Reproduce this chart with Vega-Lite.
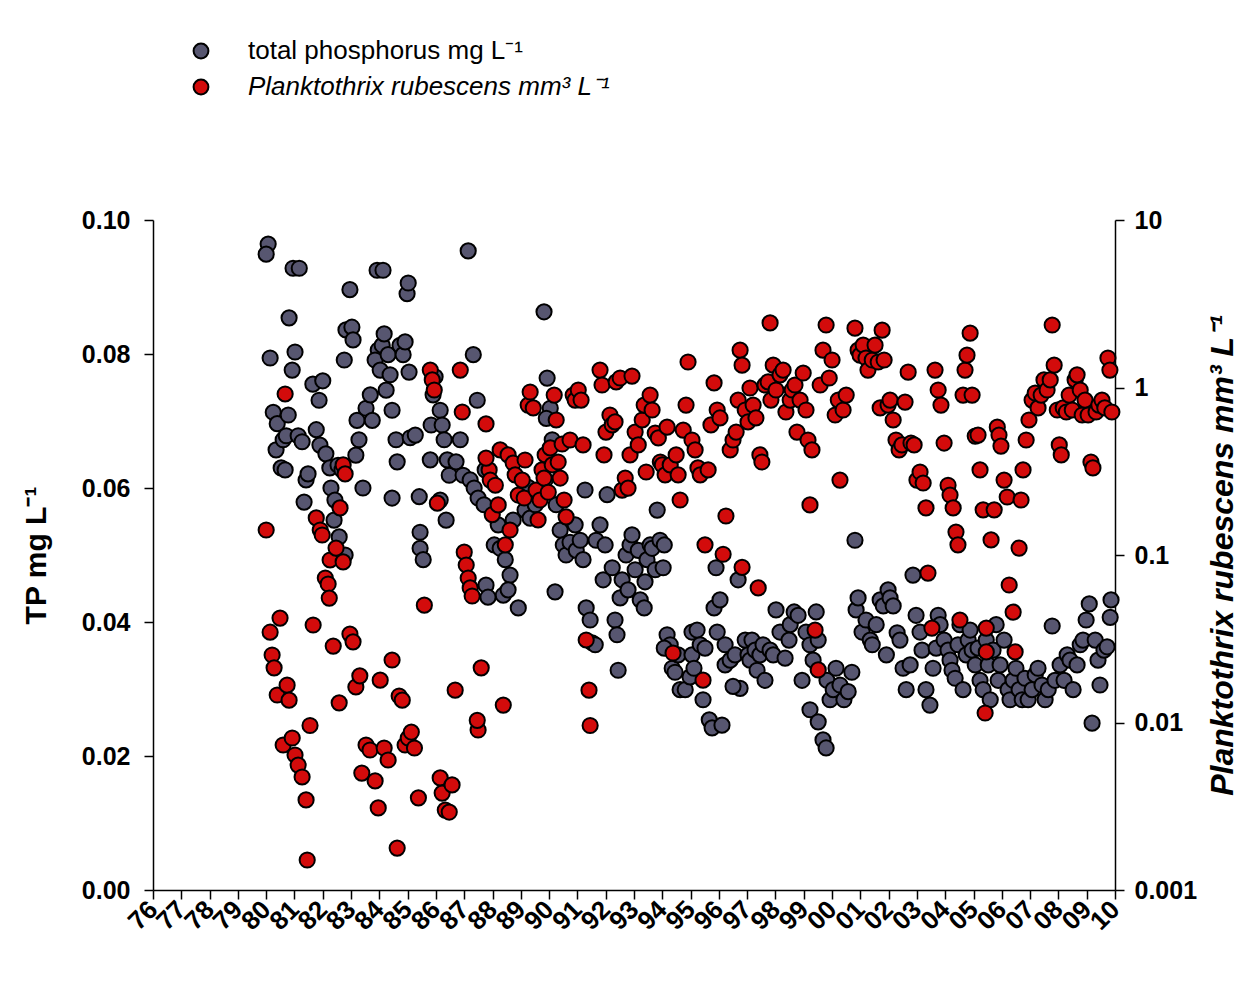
{
"$schema": "https://vega.github.io/schema/vega-lite/v6.json",
"width": 962,
"height": 670,
"autosize": {"type": "none"},
"padding": {"left": 153, "top": 220, "right": 124, "bottom": 100},
"background": "white",
"config": {
  "view": {"stroke": null},
  "font": "Liberation Sans",
  "axis": {"grid": false, "domainColor": "black", "domainWidth": 1.5, "tickColor": "black", "tickWidth": 1.5, "tickSize": 9, "labelColor": "black", "labelFont": "Liberation Sans", "labelFontSize": 25, "labelFontWeight": "bold", "titleColor": "black", "titleFont": "Liberation Sans", "titleFontSize": 30, "titleFontWeight": "bold", "labelFlush": false}
},
"datasets": {
"tp": [
{"year":1980.07,"tp":0.0964},{"year":1980.00,"tp":0.0949},{"year":1980.14,"tp":0.0794},{"year":1980.25,"tp":0.0713},{"year":1980.39,"tp":0.0696},{"year":1980.35,"tp":0.0657},{"year":1980.53,"tp":0.0630},{"year":1980.60,"tp":0.0672},{"year":1980.71,"tp":0.0678},{"year":1980.67,"tp":0.0627},{"year":1980.81,"tp":0.0854},{"year":1980.92,"tp":0.0776},{"year":1981.02,"tp":0.0803},{"year":1980.95,"tp":0.0928},{"year":1981.17,"tp":0.0928},{"year":1980.78,"tp":0.0709},{"year":1981.13,"tp":0.0678},{"year":1981.27,"tp":0.0669},{"year":1981.41,"tp":0.0612},{"year":1981.34,"tp":0.0579},{"year":1981.48,"tp":0.0621},{"year":1981.65,"tp":0.0755},{"year":1981.87,"tp":0.0731},{"year":1982.00,"tp":0.0760},{"year":1981.77,"tp":0.0687},{"year":1981.90,"tp":0.0664},{"year":1982.11,"tp":0.0651},{"year":1982.25,"tp":0.0630},{"year":1982.29,"tp":0.0600},{"year":1982.43,"tp":0.0582},{"year":1982.54,"tp":0.0634},{"year":1982.68,"tp":0.0627},{"year":1982.76,"tp":0.0791},{"year":1982.96,"tp":0.0896},{"year":1982.82,"tp":0.0836},{"year":1983.03,"tp":0.0840},{"year":1983.07,"tp":0.0821},{"year":1983.21,"tp":0.0701},{"year":1983.28,"tp":0.0672},{"year":1983.17,"tp":0.0649},{"year":1983.42,"tp":0.0600},{"year":1982.58,"tp":0.0527},{"year":1982.79,"tp":0.0500},{"year":1982.40,"tp":0.0552},
{"year":1983.53,"tp":0.0719},{"year":1983.68,"tp":0.0739},{"year":1983.75,"tp":0.0701},{"year":1983.96,"tp":0.0806},{"year":1983.85,"tp":0.0791},{"year":1983.92,"tp":0.0925},{"year":1984.13,"tp":0.0925},{"year":1984.03,"tp":0.0776},{"year":1984.10,"tp":0.0813},{"year":1984.17,"tp":0.0830},{"year":1984.31,"tp":0.0799},{"year":1984.38,"tp":0.0769},{"year":1984.24,"tp":0.0746},{"year":1984.45,"tp":0.0716},{"year":1984.59,"tp":0.0672},{"year":1984.63,"tp":0.0639},{"year":1984.45,"tp":0.0585},{"year":1984.73,"tp":0.0813},{"year":1984.84,"tp":0.0799},{"year":1984.91,"tp":0.0818},{"year":1984.98,"tp":0.0890},{"year":1985.02,"tp":0.0906},{"year":1985.05,"tp":0.0773},{"year":1985.09,"tp":0.0675},{"year":1985.27,"tp":0.0679},{"year":1985.41,"tp":0.0587},{"year":1985.44,"tp":0.0534},{"year":1985.44,"tp":0.0510},{"year":1985.55,"tp":0.0493},{"year":1985.83,"tp":0.0694},{"year":1985.80,"tp":0.0642},{"year":1985.90,"tp":0.0739},{"year":1985.97,"tp":0.0766},{"year":1986.15,"tp":0.0716},{"year":1986.22,"tp":0.0694},{"year":1986.29,"tp":0.0672},{"year":1986.40,"tp":0.0642},{"year":1986.47,"tp":0.0619},{"year":1986.15,"tp":0.0582},{"year":1986.36,"tp":0.0552},
{"year":1987.14,"tp":0.0954},{"year":1987.32,"tp":0.0799},{"year":1987.46,"tp":0.0731},{"year":1986.86,"tp":0.0672},{"year":1986.71,"tp":0.0639},{"year":1986.96,"tp":0.0619},{"year":1987.21,"tp":0.0612},{"year":1987.35,"tp":0.0600},{"year":1987.49,"tp":0.0585},{"year":1987.70,"tp":0.0575},{"year":1987.74,"tp":0.0627},{"year":1987.77,"tp":0.0455},{"year":1987.84,"tp":0.0437},{"year":1988.06,"tp":0.0515},{"year":1988.20,"tp":0.0545},{"year":1988.27,"tp":0.0510},{"year":1988.45,"tp":0.0493},{"year":1988.38,"tp":0.0440},{"year":1988.62,"tp":0.0470},{"year":1988.55,"tp":0.0448},{"year":1988.91,"tp":0.0421},{"year":1988.73,"tp":0.0552},{"year":1988.98,"tp":0.0590},{"year":1989.15,"tp":0.0567},{"year":1989.26,"tp":0.0601},{"year":1989.33,"tp":0.0555},{"year":1989.51,"tp":0.0575},{"year":1989.68,"tp":0.0590},{"year":1989.82,"tp":0.0863},{"year":1989.86,"tp":0.0612},{"year":1989.93,"tp":0.0764},{"year":1990.04,"tp":0.0719},{"year":1989.90,"tp":0.0704},{"year":1990.11,"tp":0.0672},
{"year":1990.21,"tp":0.0445},{"year":1990.25,"tp":0.0575},{"year":1990.39,"tp":0.0537},{"year":1990.50,"tp":0.0515},{"year":1990.60,"tp":0.0500},{"year":1990.74,"tp":0.0519},{"year":1990.92,"tp":0.0545},{"year":1990.96,"tp":0.0507},{"year":1991.10,"tp":0.0522},{"year":1991.27,"tp":0.0597},{"year":1991.20,"tp":0.0493},{"year":1991.31,"tp":0.0421},{"year":1991.45,"tp":0.0403},{"year":1991.52,"tp":0.0369},{"year":1991.63,"tp":0.0366},{"year":1991.66,"tp":0.0522},{"year":1991.80,"tp":0.0545},{"year":1991.98,"tp":0.0515},{"year":1992.05,"tp":0.0590},{"year":1991.91,"tp":0.0463},
{"year":1992.23,"tp":0.0481},{"year":1992.33,"tp":0.0403},{"year":1992.40,"tp":0.0381},{"year":1992.44,"tp":0.0328},{"year":1992.51,"tp":0.0436},{"year":1992.58,"tp":0.0463},{"year":1992.72,"tp":0.0500},{"year":1992.79,"tp":0.0448},{"year":1992.86,"tp":0.0515},{"year":1992.93,"tp":0.0530},{"year":1993.04,"tp":0.0478},{"year":1993.15,"tp":0.0507},{"year":1993.22,"tp":0.0433},{"year":1993.36,"tp":0.0421},{"year":1993.39,"tp":0.0460},{"year":1993.46,"tp":0.0493},{"year":1993.57,"tp":0.0515},{"year":1993.64,"tp":0.0510},{"year":1993.75,"tp":0.0478},{"year":1993.82,"tp":0.0567},{"year":1993.92,"tp":0.0522},{"year":1994.03,"tp":0.0481},{"year":1994.07,"tp":0.0515},{"year":1994.17,"tp":0.0381},{"year":1994.28,"tp":0.0366},{"year":1994.07,"tp":0.0361},{"year":1994.35,"tp":0.0331},{"year":1994.45,"tp":0.0325},{"year":1994.56,"tp":0.0351},{"year":1994.63,"tp":0.0299},{"year":1994.81,"tp":0.0299},{"year":1994.98,"tp":0.0318},
{"year":1995.05,"tp":0.0351},{"year":1995.05,"tp":0.0385},{"year":1995.23,"tp":0.0388},{"year":1995.34,"tp":0.0366},{"year":1995.51,"tp":0.0361},{"year":1995.66,"tp":0.0254},{"year":1995.76,"tp":0.0242},{"year":1995.83,"tp":0.0421},{"year":1995.94,"tp":0.0385},{"year":1996.04,"tp":0.0433},{"year":1995.90,"tp":0.0481},{"year":1996.22,"tp":0.0366},{"year":1996.11,"tp":0.0246},{"year":1996.22,"tp":0.0336},{"year":1996.40,"tp":0.0343},{"year":1996.57,"tp":0.0351},{"year":1996.68,"tp":0.0463},{"year":1996.75,"tp":0.0301},{"year":1996.93,"tp":0.0373},{"year":1995.12,"tp":0.0331},{"year":1995.44,"tp":0.0284},{"year":1996.50,"tp":0.0304},
{"year":1997.03,"tp":0.0351},{"year":1997.10,"tp":0.0343},{"year":1997.17,"tp":0.0373},{"year":1997.28,"tp":0.0358},{"year":1997.35,"tp":0.0328},{"year":1997.45,"tp":0.0351},{"year":1997.56,"tp":0.0366},{"year":1997.63,"tp":0.0313},{"year":1997.81,"tp":0.0358},{"year":1997.92,"tp":0.0351},{"year":1998.02,"tp":0.0418},{"year":1998.16,"tp":0.0385},{"year":1998.34,"tp":0.0346},{"year":1998.48,"tp":0.0373},{"year":1998.52,"tp":0.0396},{"year":1998.66,"tp":0.0415},{"year":1998.80,"tp":0.0410},{"year":1998.94,"tp":0.0313},{"year":1999.08,"tp":0.0385},{"year":1999.22,"tp":0.0366},{"year":1999.33,"tp":0.0343},{"year":1999.44,"tp":0.0415},{"year":1999.51,"tp":0.0373},{"year":1999.22,"tp":0.0269},{"year":1999.51,"tp":0.0251},{"year":1999.68,"tp":0.0224},{"year":1999.79,"tp":0.0212},{"year":1999.82,"tp":0.0313},{"year":1999.93,"tp":0.0284},
{"year":2000.04,"tp":0.0299},{"year":2000.14,"tp":0.0331},{"year":2000.28,"tp":0.0306},{"year":2000.42,"tp":0.0284},{"year":2000.57,"tp":0.0296},{"year":2000.70,"tp":0.0325},{"year":2000.85,"tp":0.0418},{"year":2000.81,"tp":0.0522},{"year":2000.92,"tp":0.0436},{"year":2001.06,"tp":0.0385},{"year":2001.20,"tp":0.0403},{"year":2001.35,"tp":0.0373},{"year":2001.42,"tp":0.0366},{"year":2001.56,"tp":0.0396},{"year":2001.70,"tp":0.0433},{"year":2001.81,"tp":0.0424},{"year":2001.92,"tp":0.0351},{"year":2001.98,"tp":0.0448},{"year":2002.05,"tp":0.0436},{"year":2002.16,"tp":0.0424},{"year":2002.30,"tp":0.0384},{"year":2002.40,"tp":0.0373},{"year":2002.51,"tp":0.0331},{"year":2002.62,"tp":0.0299},{"year":2002.76,"tp":0.0336},{"year":2002.86,"tp":0.0470},{"year":2002.97,"tp":0.0410},{"year":2003.11,"tp":0.0385},{"year":2003.18,"tp":0.0358},{"year":2003.32,"tp":0.0299},{"year":2003.46,"tp":0.0276},{"year":2003.57,"tp":0.0331},{"year":2003.68,"tp":0.0361},{"year":2003.75,"tp":0.0410},{"year":2003.82,"tp":0.0396},
{"year":2003.96,"tp":0.0373},{"year":2004.10,"tp":0.0358},{"year":2004.17,"tp":0.0343},{"year":2004.24,"tp":0.0328},{"year":2004.35,"tp":0.0316},{"year":2004.45,"tp":0.0366},{"year":2004.52,"tp":0.0396},{"year":2004.63,"tp":0.0299},{"year":2004.74,"tp":0.0351},{"year":2004.81,"tp":0.0373},{"year":2004.88,"tp":0.0388},{"year":2004.95,"tp":0.0358},{"year":2005.06,"tp":0.0336},{"year":2005.16,"tp":0.0361},{"year":2005.23,"tp":0.0313},{"year":2005.34,"tp":0.0299},{"year":2005.45,"tp":0.0373},{"year":2005.52,"tp":0.0336},{"year":2005.59,"tp":0.0284},{"year":2005.69,"tp":0.0358},{"year":2005.80,"tp":0.0396},{"year":2005.87,"tp":0.0313},{"year":2005.94,"tp":0.0336},{"year":2006.08,"tp":0.0373},{"year":2006.22,"tp":0.0299},{"year":2006.29,"tp":0.0284},{"year":2006.40,"tp":0.0313},{"year":2006.50,"tp":0.0331},{"year":2006.61,"tp":0.0299},{"year":2006.72,"tp":0.0284},{"year":2006.82,"tp":0.0316},{"year":2006.93,"tp":0.0284},
{"year":2007.07,"tp":0.0299},{"year":2007.18,"tp":0.0321},{"year":2007.28,"tp":0.0331},{"year":2007.42,"tp":0.0306},{"year":2007.53,"tp":0.0284},{"year":2007.64,"tp":0.0299},{"year":2007.78,"tp":0.0394},{"year":2007.88,"tp":0.0313},{"year":2008.06,"tp":0.0336},{"year":2008.20,"tp":0.0313},{"year":2008.31,"tp":0.0351},{"year":2008.41,"tp":0.0343},{"year":2008.52,"tp":0.0299},{"year":2008.66,"tp":0.0336},{"year":2008.77,"tp":0.0366},{"year":2008.87,"tp":0.0373},{"year":2008.98,"tp":0.0403},{"year":2009.09,"tp":0.0427},{"year":2009.19,"tp":0.0249},{"year":2009.30,"tp":0.0373},{"year":2009.40,"tp":0.0343},{"year":2009.47,"tp":0.0306},{"year":2009.61,"tp":0.0358},{"year":2009.72,"tp":0.0363},{"year":2009.83,"tp":0.0407},{"year":2009.86,"tp":0.0433}
],
"pr": [
{"year":1980.00,"pr":0.141},{"year":1980.14,"pr":0.0346},{"year":1980.21,"pr":0.0253},{"year":1980.28,"pr":0.0212},{"year":1980.39,"pr":0.0146},{"year":1980.49,"pr":0.0420},{"year":1980.60,"pr":0.00734},{"year":1980.74,"pr":0.0167},{"year":1980.81,"pr":0.0136},{"year":1980.92,"pr":0.00808},{"year":1981.02,"pr":0.0064},{"year":1981.13,"pr":0.00557},{"year":1981.27,"pr":0.00473},{"year":1981.41,"pr":0.00345},{"year":1981.45,"pr":0.00151},{"year":1980.67,"pr":0.915},{"year":1981.55,"pr":0.0096},{"year":1981.66,"pr":0.0382},{"year":1981.77,"pr":0.1665},{"year":1981.91,"pr":0.141},{"year":1981.98,"pr":0.1317},{"year":1982.09,"pr":0.0729},{"year":1982.19,"pr":0.0671},{"year":1982.23,"pr":0.0553},{"year":1982.37,"pr":0.0286},{"year":1982.26,"pr":0.0934},{"year":1982.47,"pr":0.110},{"year":1982.61,"pr":0.191},{"year":1982.72,"pr":0.345},{"year":1982.79,"pr":0.305},{"year":1982.72,"pr":0.0909},{"year":1982.58,"pr":0.0131},{"year":1982.96,"pr":0.0337},{"year":1983.07,"pr":0.0303},{"year":1983.17,"pr":0.0163},{"year":1983.31,"pr":0.0190},{"year":1983.38,"pr":0.00499},{"year":1983.53,"pr":0.00734},{"year":1983.67,"pr":0.00685},{"year":1983.85,"pr":0.00448},{"year":1983.96,"pr":0.00309},{"year":1984.03,"pr":0.0179},{"year":1984.17,"pr":0.00704},{"year":1984.31,"pr":0.00597},{"year":1984.45,"pr":0.0236},{"year":1984.63,"pr":0.00178},{"year":1984.70,"pr":0.0144},{"year":1984.81,"pr":0.0136},{"year":1984.91,"pr":0.00734},{"year":1985.02,"pr":0.00808},{"year":1985.13,"pr":0.00877},{"year":1985.24,"pr":0.00704},{"year":1985.38,"pr":0.00355},{"year":1985.59,"pr":0.0502},{"year":1985.80,"pr":1.27},{"year":1985.87,"pr":1.11},{"year":1985.94,"pr":0.966},{"year":1986.05,"pr":0.204},{"year":1986.15,"pr":0.00467},{"year":1986.22,"pr":0.00379},{"year":1986.33,"pr":0.0030},{"year":1986.47,"pr":0.00292},{"year":1986.57,"pr":0.00424},{"year":1986.68,"pr":0.0156},{"year":1986.86,"pr":1.27},{"year":1986.93,"pr":0.714},{"year":1987.00,"pr":0.104},{"year":1987.07,"pr":0.0872},{"year":1987.14,"pr":0.0729},{"year":1987.21,"pr":0.0636},{"year":1987.28,"pr":0.0569},{"year":1987.49,"pr":0.00902},{"year":1987.60,"pr":0.0212},{"year":1987.46,"pr":0.0103},
{"year":1987.77,"pr":0.606},{"year":1987.88,"pr":0.322},{"year":1987.77,"pr":0.379},{"year":1987.92,"pr":0.280},{"year":1987.99,"pr":0.174},{"year":1988.10,"pr":0.261},{"year":1988.20,"pr":0.199},{"year":1988.27,"pr":0.424},{"year":1988.38,"pr":0.0127},{"year":1988.45,"pr":0.115},{"year":1988.55,"pr":0.396},{"year":1988.62,"pr":0.141},{"year":1988.73,"pr":0.354},{"year":1988.80,"pr":0.301},{"year":1988.91,"pr":0.228},{"year":1989.05,"pr":0.280},{"year":1989.12,"pr":0.219},{"year":1989.15,"pr":0.369},{"year":1989.26,"pr":0.785},{"year":1989.33,"pr":0.940},{"year":1989.44,"pr":0.755},{"year":1989.54,"pr":0.244},{"year":1989.61,"pr":0.162},{"year":1989.68,"pr":0.213},{"year":1989.75,"pr":0.322},{"year":1989.82,"pr":0.288},{"year":1989.86,"pr":0.396},{"year":1989.97,"pr":0.237},{"year":1990.04,"pr":0.436},{"year":1990.11,"pr":0.345},{"year":1990.18,"pr":0.901},{"year":1990.25,"pr":0.640},{"year":1990.32,"pr":0.359},{"year":1990.39,"pr":0.288},{"year":1990.46,"pr":0.460},{"year":1990.53,"pr":0.213},{"year":1990.60,"pr":0.169},{"year":1990.74,"pr":0.486},{"year":1990.85,"pr":0.901},{"year":1990.92,"pr":0.841},{"year":1991.03,"pr":0.966},{"year":1991.13,"pr":0.841},{"year":1991.20,"pr":0.454},{"year":1991.31,"pr":0.0311},{"year":1991.41,"pr":0.0156},{"year":1991.45,"pr":0.0096},
{"year":1991.80,"pr":1.27},{"year":1991.87,"pr":1.035},{"year":1991.94,"pr":0.396},{"year":1992.01,"pr":0.542},{"year":1992.15,"pr":0.685},{"year":1992.23,"pr":0.598},{"year":1992.33,"pr":0.623},{"year":1992.37,"pr":1.08},{"year":1992.51,"pr":1.14},{"year":1992.58,"pr":0.244},{"year":1992.69,"pr":0.288},{"year":1992.79,"pr":0.251},{"year":1992.86,"pr":0.396},{"year":1992.93,"pr":1.17},{"year":1993.04,"pr":0.542},{"year":1993.15,"pr":0.454},{"year":1993.29,"pr":0.640},{"year":1993.36,"pr":0.785},{"year":1993.43,"pr":0.313},{"year":1993.57,"pr":0.901},{"year":1993.64,"pr":0.734},{"year":1993.75,"pr":0.535},{"year":1993.86,"pr":0.500},{"year":1993.93,"pr":0.359},{"year":1994.00,"pr":0.345},{"year":1994.10,"pr":0.301},{"year":1994.17,"pr":0.580},{"year":1994.28,"pr":0.345},{"year":1994.38,"pr":0.0260},{"year":1994.49,"pr":0.396},{"year":1994.56,"pr":0.301},{"year":1994.63,"pr":0.213},{"year":1994.74,"pr":0.557},{"year":1994.84,"pr":0.785},{"year":1994.91,"pr":1.42},
{"year":1995.05,"pr":0.486},{"year":1995.16,"pr":0.424},{"year":1995.26,"pr":0.331},{"year":1995.34,"pr":0.301},{"year":1995.44,"pr":0.0179},{"year":1995.51,"pr":0.115},{"year":1995.62,"pr":0.322},{"year":1995.72,"pr":0.598},{"year":1995.83,"pr":1.065},{"year":1995.94,"pr":0.734},{"year":1996.04,"pr":0.658},{"year":1996.15,"pr":0.101},{"year":1996.25,"pr":0.171},{"year":1996.40,"pr":0.424},{"year":1996.50,"pr":0.486},{"year":1996.61,"pr":0.542},{"year":1996.68,"pr":0.841},{"year":1996.75,"pr":1.67},{"year":1996.82,"pr":1.36},{"year":1996.93,"pr":0.734},{"year":1997.03,"pr":0.623},{"year":1997.10,"pr":0.993},{"year":1997.21,"pr":0.785},{"year":1997.31,"pr":0.658},{"year":1997.45,"pr":0.396},{"year":1997.52,"pr":0.359},{"year":1997.63,"pr":1.035},{"year":1997.74,"pr":1.08},{"year":1997.84,"pr":0.841},{"year":1997.81,"pr":2.43},{"year":1997.92,"pr":1.36},{"year":1997.39,"pr":0.0636},{"year":1996.82,"pr":0.0844},
{"year":1998.02,"pr":0.966},{"year":1998.16,"pr":1.19},{"year":1998.27,"pr":1.27},{"year":1998.37,"pr":0.714},{"year":1998.52,"pr":0.841},{"year":1998.59,"pr":0.966},{"year":1998.69,"pr":1.035},{"year":1998.76,"pr":0.542},{"year":1998.87,"pr":0.841},{"year":1998.98,"pr":1.22},{"year":1999.08,"pr":0.734},{"year":1999.15,"pr":0.486},{"year":1999.22,"pr":0.199},{"year":1999.29,"pr":0.424},{"year":1999.40,"pr":0.0356},{"year":1999.51,"pr":0.0206},{"year":1999.58,"pr":1.035},{"year":1999.68,"pr":1.67},{"year":1999.79,"pr":2.36},{"year":1999.90,"pr":1.14},{"year":2000.00,"pr":1.46},{"year":2000.11,"pr":0.685},{"year":2000.22,"pr":0.841},{"year":2000.28,"pr":0.280},{"year":2000.39,"pr":0.734},{"year":2000.50,"pr":0.901},
{"year":2000.81,"pr":2.26},{"year":2000.92,"pr":1.67},{"year":2000.99,"pr":1.56},{"year":2001.10,"pr":1.79},{"year":2001.20,"pr":1.50},{"year":2001.27,"pr":1.27},{"year":2001.42,"pr":1.46},{"year":2001.52,"pr":1.79},{"year":2001.63,"pr":1.42},{"year":2001.70,"pr":0.755},{"year":2001.77,"pr":2.20},{"year":2001.84,"pr":1.46},{"year":2001.98,"pr":0.785},{"year":2002.05,"pr":0.841},{"year":2002.16,"pr":0.640},{"year":2002.26,"pr":0.486},{"year":2002.37,"pr":0.424},{"year":2002.47,"pr":0.454},{"year":2002.58,"pr":0.818},{"year":2002.69,"pr":1.235},{"year":2002.79,"pr":0.466},{"year":2002.90,"pr":0.454},{"year":2003.00,"pr":0.280},{"year":2003.11,"pr":0.313},{"year":2003.22,"pr":0.269},{"year":2003.32,"pr":0.191},{"year":2003.39,"pr":0.078},{"year":2003.53,"pr":0.0366},{"year":2003.64,"pr":1.27},{"year":2003.75,"pr":0.966},{"year":2003.85,"pr":0.785},
{"year":2003.96,"pr":0.466},{"year":2004.10,"pr":0.261},{"year":2004.17,"pr":0.228},{"year":2004.28,"pr":0.191},{"year":2004.38,"pr":0.137},{"year":2004.45,"pr":0.115},{"year":2004.52,"pr":0.0409},{"year":2004.63,"pr":0.901},{"year":2004.70,"pr":1.27},{"year":2004.77,"pr":1.56},{"year":2004.88,"pr":2.11},{"year":2004.95,"pr":0.901},{"year":2005.06,"pr":0.513},{"year":2005.16,"pr":0.52},{"year":2005.23,"pr":0.322},{"year":2005.34,"pr":0.186},{"year":2005.45,"pr":0.0366},{"year":2005.45,"pr":0.0264},{"year":2005.41,"pr":0.0114},{"year":2005.62,"pr":0.123},{"year":2005.73,"pr":0.186},{"year":2005.84,"pr":0.580},{"year":2005.90,"pr":0.52},{"year":2005.97,"pr":0.447},{"year":2006.08,"pr":0.280},{"year":2006.19,"pr":0.222},{"year":2006.26,"pr":0.0662},{"year":2006.40,"pr":0.0456},{"year":2006.47,"pr":0.0264},
{"year":2006.61,"pr":0.110},{"year":2006.68,"pr":0.213},{"year":2006.75,"pr":0.322},{"year":2006.86,"pr":0.486},{"year":2006.96,"pr":0.640},{"year":2007.07,"pr":0.841},{"year":2007.18,"pr":0.927},{"year":2007.28,"pr":0.755},{"year":2007.39,"pr":0.901},{"year":2007.49,"pr":1.11},{"year":2007.60,"pr":0.966},{"year":2007.71,"pr":1.11},{"year":2007.78,"pr":2.36},{"year":2007.85,"pr":1.36},{"year":2007.96,"pr":0.734},{"year":2008.03,"pr":0.454},{"year":2008.10,"pr":0.396},{"year":2008.17,"pr":0.755},{"year":2008.28,"pr":0.714},{"year":2008.38,"pr":0.901},{"year":2008.49,"pr":0.734},{"year":2008.59,"pr":1.11},{"year":2008.66,"pr":1.19},{"year":2008.77,"pr":0.966},{"year":2008.84,"pr":0.685},{"year":2008.94,"pr":0.841},{"year":2009.05,"pr":0.685},{"year":2009.15,"pr":0.359},{"year":2009.22,"pr":0.331},{"year":2009.33,"pr":0.714},{"year":2009.43,"pr":0.785},{"year":2009.54,"pr":0.841},{"year":2009.64,"pr":0.755},{"year":2009.75,"pr":1.50},{"year":2009.82,"pr":1.27},{"year":2009.89,"pr":0.714}
]
},
"encoding": {
  "x": {"field": "year", "type": "quantitative", "scale": {"domain": [1976, 2010], "nice": false, "zero": false},
    "axis": {"title": null, "values": [1976,1977,1978,1979,1980,1981,1982,1983,1984,1985,1986,1987,1988,1989,1990,1991,1992,1993,1994,1995,1996,1997,1998,1999,2000,2001,2002,2003,2004,2005,2006,2007,2008,2009,2010], "labelExpr": "substring(toString(datum.value), 2)", "labelAngle": -45, "labelAlign": "right", "labelBaseline": "middle", "labelFontSize": 26, "labelPadding": 6, "labelOverlap": {"expr": "false"}, "labelBound": false}}
},
"layer": [
{
  "data": {"name": "tp"},
  "mark": {"type": "circle", "size": 230, "stroke": "black", "strokeWidth": 2, "opacity": 1},
  "encoding": {
    "y": {"field": "tp", "type": "quantitative", "scale": {"domain": [0, 0.1], "nice": false},
      "axis": {"orient": "left", "title": "TP mg L⁻¹", "values": [0, 0.02, 0.04, 0.06, 0.08, 0.1], "format": ".2f", "labelPadding": 14, "titlePadding": 30}},
    "color": {"datum": "total phosphorus mg L⁻¹", "type": "nominal",
      "scale": {"domain": ["total phosphorus mg L⁻¹", "Planktothrix rubescens mm³ L⁻¹"], "range": ["#575670", "#d30b0b"]},
      "legend": {"orient": "none", "legendX": 35, "legendY": -182, "title": null, "symbolType": "circle", "symbolSize": 220, "symbolStrokeColor": "black", "symbolStrokeWidth": 2, "symbolOpacity": 1, "labelFont": "Liberation Sans", "labelFontSize": 26, "labelColor": "black", "labelOffset": 34, "labelLimit": 0, "rowPadding": 10, "labelFontStyle": {"expr": "indexof(datum.label, 'Plank') == 0 ? 'italic' : 'normal'"}}}
  }
},
{
  "data": {"name": "pr"},
  "mark": {"type": "circle", "size": 230, "stroke": "black", "strokeWidth": 2, "opacity": 1},
  "encoding": {
    "y": {"field": "pr", "type": "quantitative", "scale": {"type": "log", "domain": [0.001, 10], "nice": false},
      "axis": {"orient": "right", "title": "Planktothrix rubescens mm³ L⁻¹", "titleFontStyle": "italic", "titleFontSize": 32, "titleAngle": 270, "values": [0.001, 0.01, 0.1, 1, 10], "format": "~g", "labelPadding": 10, "titlePadding": 43}},
    "color": {"datum": "Planktothrix rubescens mm³ L⁻¹", "type": "nominal"}
  }
}
],
"resolve": {"scale": {"y": "independent"}}
}
